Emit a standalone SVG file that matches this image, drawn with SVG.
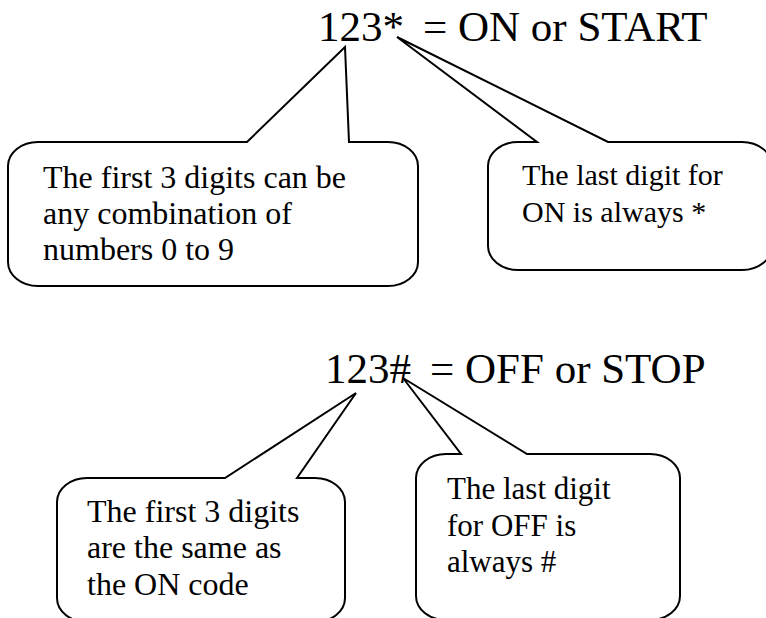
<svg xmlns="http://www.w3.org/2000/svg" width="766" height="618" viewBox="0 0 766 618">
<style>
.c{fill:#fff;stroke:#000;stroke-width:2;stroke-linejoin:miter}
.t{font-family:'Liberation Serif','Times New Roman',serif;fill:#000}
.big{font-size:43px}
.s30{font-size:30px}
.s31{font-size:31px}
.s32{font-size:32px}
</style>
<rect width="766" height="618" fill="#fff"/>
<g id="callouts">
<g id="callout-first-on">
<path class="c" d="M38,142 L247,142 L345,47 L349,142 L388,142 A30,24 0 0 1 418,166 L418,262 A30,24 0 0 1 388,286 L38,286 A30,24 0 0 1 8,262 L8,166 A30,24 0 0 1 38,142 Z"/>
<text class="t s32" x="43" y="188">The first 3 digits can be</text>
<text class="t s32" x="43" y="224">any combination of</text>
<text class="t s32" x="43" y="260">numbers 0 to 9</text>
</g>
<g id="callout-last-on">
<path class="c" d="M518,142 L537,142 L397,37 L608,142 L742,142 A30,24 0 0 1 772,166 L772,246 A30,24 0 0 1 742,270 L518,270 A30,24 0 0 1 488,246 L488,166 A30,24 0 0 1 518,142 Z"/>
<text class="t s30" x="522" y="185">The last digit for</text>
<text class="t s30" x="522" y="222">ON is always *</text>
</g>
<g id="callout-first-off">
<path class="c" d="M87,478 L225,478 L356,393 L297,478 L315,478 A30,24 0 0 1 345,502 L345,598 A30,24 0 0 1 315,622 L87,622 A30,24 0 0 1 57,598 L57,502 A30,24 0 0 1 87,478 Z"/>
<text class="t s32" x="87" y="522">The first 3 digits</text>
<text class="t s32" x="87" y="558">are the same as</text>
<text class="t s32" x="87" y="595">the ON code</text>
</g>
<g id="callout-last-off">
<path class="c" d="M446,454 L461,454 L403,378 L527,454 L650,454 A30,24 0 0 1 680,478 L680,596 A30,24 0 0 1 650,620 L446,620 A30,24 0 0 1 416,596 L416,478 A30,24 0 0 1 446,454 Z"/>
<text class="t s31" x="447" y="499">The last digit</text>
<text class="t s31" x="447" y="536">for OFF is</text>
<text class="t s31" x="447" y="572">always #</text>
</g>
</g>
<g id="title-on">
<text class="t big" x="318" y="41">123*</text>
<text class="t big" x="423" y="41">= ON or START</text>
</g>
<g id="title-off">
<text class="t big" x="325" y="383">123#</text>
<text class="t big" x="430" y="383">= OFF or STOP</text>
</g>
</svg>
